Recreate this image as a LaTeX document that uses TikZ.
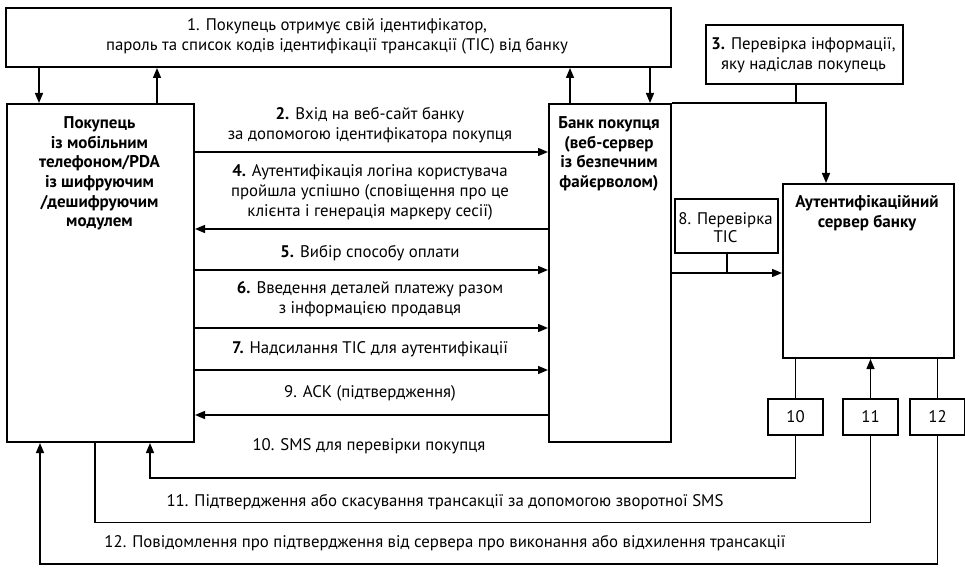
\documentclass[tikz,border=0pt]{standalone}
\usepackage{fontspec}
\setmainfont{PT Sans}
\usetikzlibrary{arrows.meta}
\begin{document}
\begin{tikzpicture}[x=1pt,y=-1pt,
  box/.style={draw, line width=2pt, inner sep=0pt, anchor=north west},
  lbl/.style={font=\fontsize{16.8}{20}\selectfont, align=center, inner sep=0pt},
  blbl/.style={lbl, font=\fontsize{17}{19.7}\selectfont\bfseries},
  arr/.style={line width=1.4pt, -{Triangle[length=10pt,width=8pt]}},
  ln/.style={line width=1.4pt}]
\useasboundingbox (0,0) rectangle (965,569);
% boxes
\node[box, minimum width=665pt, minimum height=59pt] (top) at (5,7) {};
\node[box, minimum width=187pt, minimum height=338pt] (left) at (6,103) {};
\node[box, minimum width=122pt, minimum height=338pt] (bank) at (548,103) {};
\node[box, minimum width=197pt, minimum height=59pt] (box3) at (705,24) {};
\node[box, minimum width=171pt, minimum height=174pt] (auth) at (782,183) {};
\node[box, minimum width=103pt, minimum height=54pt] (box8) at (674,198) {};
\node[box, minimum width=55pt, minimum height=36pt, font=\fontsize{16.8}{18}\selectfont] (b10) at (767,398) {10};
\node[box, minimum width=55pt, minimum height=36pt, font=\fontsize{16.8}{18}\selectfont] (b11) at (842,398) {11};
\node[box, minimum width=55pt, minimum height=36pt, font=\fontsize{16.8}{18}\selectfont] (b12) at (909,398) {12};
% texts in boxes
\node[lbl] (t1) at (337,36.7) {1. Покупець отримує свій ідентифікатор,\\пароль та список кодів ідентифікації трансакції (TIC) від банку};
\node[blbl] (tleft) at (99.5,173.5) {Покупець\\із мобільним\\телефоном/PDA\\із шифруючим\\/дешифруючим\\модулем};
\node[blbl] (tbank) at (609,154) {Банк покупця\\(веб-сервер\\із безпечним\\файєрволом)};
\node[blbl] (tauth) at (867,213) {Аутентифікаційний\\сервер банку};
\node[lbl] (t3) at (803.5,55.4) {\textbf{3.} Перевірка інформації,\\яку надіслав покупець};
\node[lbl, font=\fontsize{16.8}{18.7}\selectfont] (t8) at (725.5,227.5) {8. Перевірка\\TIC};
% top arrows
\draw[arr] (top.south -| 39,0) -- (left.north -| 39,0);
\draw[arr] (left.north -| 157,0) -- (top.south -| 157,0);
\draw[arr] (bank.north -| 570,0) -- (top.south -| 570,0);
\draw[arr] (top.south -| 650,0) -- (bank.north -| 650,0);
% middle arrows
\draw[arr] (left.east |- 0,152) -- (bank.west |- 0,152);
\draw[arr] (bank.west |- 0,229) -- (left.east |- 0,229);
\draw[arr] (left.east |- 0,270) -- (bank.west |- 0,270);
\draw[arr] (left.east |- 0,328) -- (bank.west |- 0,328);
\draw[arr] (left.east |- 0,370) -- (bank.west |- 0,370);
\draw[arr] (bank.west |- 0,415) -- (left.east |- 0,415);
\node[lbl] (t2) at (370,125) {\textbf{2.} Вхід на веб-сайт банку\\за допомогою ідентифікатора покупця};
\node[lbl] (t4) at (370,192.5) {\textbf{4.} Аутентифікація логіна користувача\\пройшла успішно (сповіщення про це\\клієнта і генерація маркеру сесії)};
\node[lbl] (t5) at (370,252.7) {\textbf{5.} Вибір способу оплати};
\node[lbl] (t6) at (370,298.7) {\textbf{6.} Введення деталей платежу разом\\з інформацією продавця};
\node[lbl] (t7) at (370,349.5) {\textbf{7.} Надсилання TIC для аутентифікації};
\node[lbl] (t9) at (370,393) {9. АСК (підтвердження)};
% right side
\coordinate (c3) at (826,103);
\draw[arr] (bank.north east) -- (c3) -- (auth.north -| c3);
\draw[ln] (box3.south -| 796,0) -- (c3 -| 796,0);
\coordinate (c8) at (727,273);
\draw[arr] (bank.east |- c8) -- (auth.west |- c8);
\draw[ln] (box8.south -| c8) -- (c8);
\draw[ln] (auth.south -| b10.north) -- (b10.north);
\draw[arr] (b11.north) -- (auth.south -| b11.north);
\draw[ln] (auth.south -| b12.north) -- (b12.north);
% bottom
\coordinate (c10) at (150,478);
\coordinate (c11) at (95,522.7);
\coordinate (c12) at (40,564);
\draw[arr] (b10.south) -- (b10.south |- c10) -- (c10) -- (left.south -| c10);
\draw[ln] (left.south -| c11) -- (c11) -- (b11.south |- c11) -- (b11.south);
\draw[arr] (b12.south) -- (b12.south |- c12) -- (c12) -- (left.south -| c12);
\node[lbl] (t10) at (369,446.7) {10. SMS для перевірки покупця};
\node[lbl] (t11) at (445,501.7) {11. Підтвердження або скасування трансакції за допомогою зворотної SMS};
\node[lbl] (t12) at (445,543.3) {12. Повідомлення про підтвердження від сервера про виконання або відхилення трансакції};
\end{tikzpicture}
\end{document}
